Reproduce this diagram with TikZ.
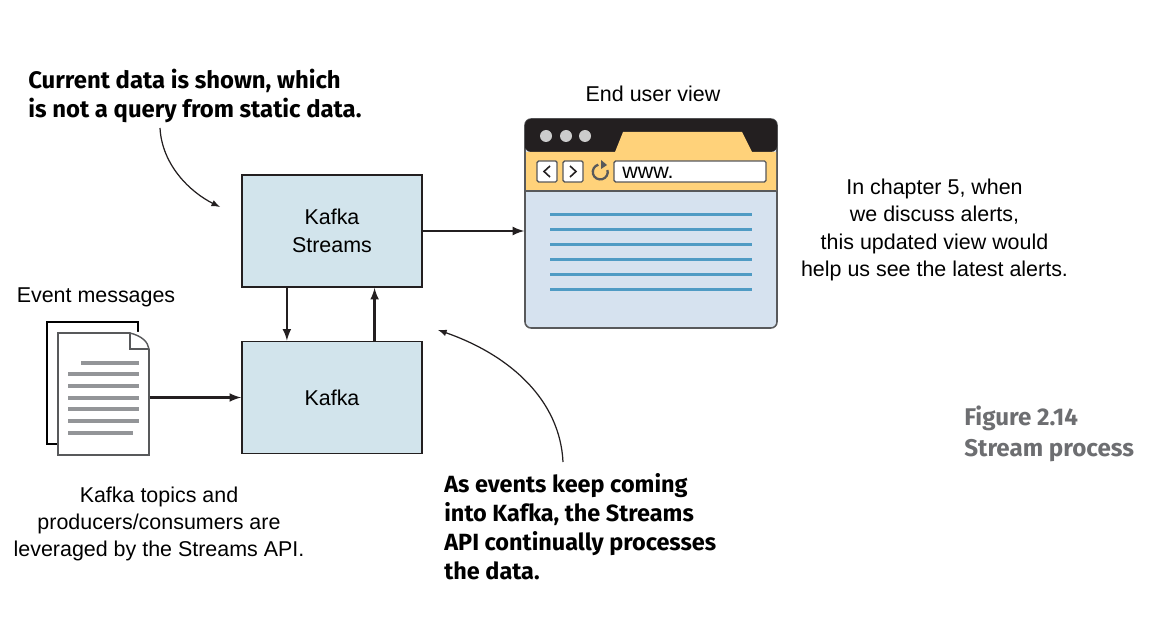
\documentclass[tikz,border=0pt]{standalone}
\usepackage{fontspec}
\setmainfont{Liberation Sans}
\newfontfamily\notefont{Fira Sans}
\usetikzlibrary{arrows, calc}
\definecolor{boxblue}{HTML}{D2E4EC}
\definecolor{pageblue}{HTML}{D6E2EF}
\definecolor{tabyellow}{HTML}{FFD27A}
\definecolor{barblack}{HTML}{231F20}
\definecolor{lineblue}{HTML}{4F9BC4}
\definecolor{linegrey}{HTML}{939598}
\definecolor{edgegrey}{HTML}{58595B}
\definecolor{figgrey}{HTML}{6D6E71}
\tikzset{
    procbox/.style={draw=barblack, line width=1.1pt, fill=boxblue, minimum width=3.6cm, minimum height=2.24cm, align=center, font=\fontsize{12.2}{15.6}\selectfont},
    plaintext/.style={align=center, inner sep=0pt, font=\fontsize{12.2}{15.6}\selectfont},
    boldnote/.style={align=left, anchor=west, inner sep=0pt, font=\notefont\bfseries\fontsize{13.6}{16.6}\selectfont},
    flow/.style={barblack, line width=1.25pt, -latex},
    navbtn/.style={draw=edgegrey, line width=0.8pt, fill=white, rounded corners=0.03cm, minimum width=0.4cm, minimum height=0.42cm, inner sep=0pt},
}
\begin{document}
\begin{tikzpicture}[x=0.02cm, y=-0.02cm]
            \useasboundingbox (0,0) rectangle (1172,634);
            % Boxes
            \node[procbox] (streams) at (332,231) {Kafka\\Streams};
            \node[procbox] (kafka) at (332,397.5) {Kafka};

            % Browser window
            \node[draw=edgegrey, line width=0.9pt, fill=pageblue, rounded corners=0.12cm, minimum width=5.04cm, minimum height=4.18cm] (browser) at (651,223.5) {};
            \fill[barblack, rounded corners=0.12cm] (525,152) |- (777,119) |- cycle;
            \fill[tabyellow] (526,152) -- (615,152) -- (623,132) -- (742,132) -- (752,152) -- (776,152) -- (776,191) -- (526,191) -- cycle;
            \draw[edgegrey, line width=0.7pt] (526,191) -- (776,191);
            \foreach \cx in {546,566,585}
                \fill[black!20] (\cx,136) circle (0.12cm);
            \node[navbtn] (back) at (547,171.5) {};
            \node[navbtn] (forward) at (573,171.5) {};
            \draw[barblack, line width=0.9pt] (550,166) -- (544,171.5) -- (550,177);
            \draw[barblack, line width=0.9pt] (570,166) -- (576,171.5) -- (570,177);
            \draw[edgegrey, line width=1.3pt] (607.5,170) arc (15:-255:0.15cm);
            \fill[edgegrey] (601,160) -- (607,165) -- (601,169) -- cycle;
            \node[draw=edgegrey, line width=0.8pt, fill=white, rounded corners=0.03cm, minimum width=3.04cm, minimum height=0.42cm, inner sep=0pt] (address) at (690,171.5) {};
            \node[plaintext, anchor=west] (www) at (622,172.5) {www.};
            \foreach \ly in {214.4,229.4,244.4,259.4,274.4,289.4}
                \draw[lineblue, line width=1.9pt] (550,\ly) -- (752,\ly);

            % Event documents
            \draw[black, line width=0.9pt, fill=white] (47,322) rectangle (138,444);
            \node[draw=edgegrey, line width=0.8pt, fill=white, minimum width=1.82cm, minimum height=2.44cm, inner sep=0pt] (events) at (103.5,394) {};
            \fill[white] (130,332) -- (150,332) -- (150,349) -- cycle;
            \draw[edgegrey, line width=0.8pt] (130,333) .. controls (142,336) and (148,342) .. (149,349) -- (149,360);
            \draw[edgegrey, line width=0.8pt] (130,333) -- (130,349) -- (149,349);
            \draw[linegrey, line width=2pt] (81,363) -- (139,363);
            \foreach \ly in {374,386,398,409,421}
                \draw[linegrey, line width=2pt] (68,\ly) -- (139,\ly);
            \draw[linegrey, line width=2pt] (68,433) -- (133,433);

            % Connectors
            \draw[flow] (events.east |- kafka.west) -- (kafka.west);
            \draw[flow] (streams.east) -- (streams.east -| browser.west);
            \draw[flow] ([xshift=26.1pt]streams.south west) -- ([xshift=26.1pt]kafka.north west);
            \draw[flow] ([xshift=76pt]kafka.north west) -- ([xshift=76pt]streams.south west);

            % Callouts
            \coordinate (CurrentStart) at (160,128);
            \coordinate (CurrentEnd)   at (220,207);
            \coordinate (EventsStart)  at (563,462);
            \coordinate (EventsEnd)    at (438,330);
            \draw[flow, line width=0.7pt] (CurrentStart) .. controls (162,165) and (190,192) .. (CurrentEnd);
            \draw[flow, line width=0.7pt] (EventsStart) .. controls (560,400) and (510,355) .. (EventsEnd);

            % Labels
            \node[plaintext] (viewlabel) at (653,94) {End user view};
            \node[plaintext] (eventslabel) at (96,297) {Event messages};
            \node[plaintext] (topicslabel) at (159,524) {Kafka topics and\\producers/consumers are\\leveraged by the Streams API.};
            \node[plaintext] (alertslabel) at (934.5,230) {In chapter 5, when\\we discuss alerts,\\this updated view would\\help us see the latest alerts.};
            \node[boldnote] (currentnote) at (28,96) {Current data is shown, which\\is not a query from static data.};
            \node[boldnote, font=\notefont\bfseries\fontsize{13.35}{16.6}\selectfont] (eventsnote) at (444,526.5) {As events keep coming\\into Kafka, the Streams\\API continually processes\\the data.};
            \node[boldnote, text=figgrey, font=\notefont\bfseries\fontsize{13.75}{17.6}\selectfont] (figlabel) at (964,434) {Figure 2.14\\Stream process};
        \end{tikzpicture}
\end{document}
